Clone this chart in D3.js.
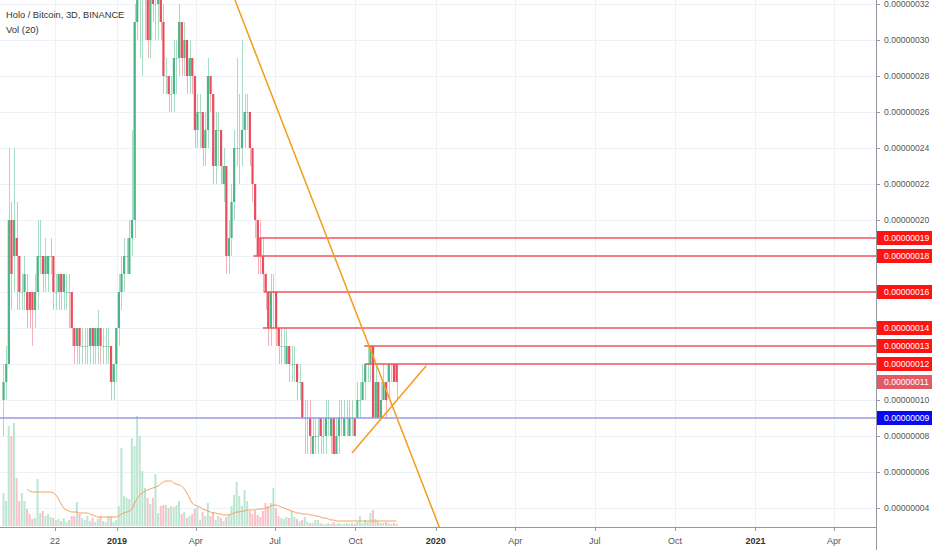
<!DOCTYPE html>
<html><head><meta charset="utf-8">
<script src="https://cdn.jsdelivr.net/npm/d3@7"></script>
<style>
html,body{margin:0;padding:0;background:#fff;}
svg{display:block;}
text{font-family:"Liberation Sans",Arial,sans-serif;}
</style></head><body>
<svg id="chart" width="932" height="550"></svg>
<script>
// ---- data (prices in satoshi, 1e-8 BTC) ----
const firstCandle = "2018-08-24";
const candleStepDays = 3;
const opens  = [10,11,12,20,18,19,18,16,16,16,16,16,15,16,18,18,17,17,18,18,16,16,17,16,16,16,16,14,13,14,13,13,13,13,14,13,13,14,13,13,13,13,11,12,14,16,17,18,17,19,20,31,33,33,33,33,30,33,32,32,33,31,28,28,27,27,29,29,31,29,30,28,29,28,25,26,26,24,25,28,27,23,25,25,22,23,18,19,21,24,24,24,25,26,26,24,22,20,19,18,17,16,14,16,16,14,13,13,12,13,12,12,12,11,11,9,9,9,7,8,8,9,8,8,9,8,9,7,8,9,8,9,8,9,9,9,10,10,11,12,12,13,9,11,9,10,11,11,12,12,12];
const closes = [11,12,20,17,20,18,16,16,17,15,15,15,16,18,18,17,18,18,18,16,16,17,16,17,16,16,14,13,14,13,13,13,13,14,13,14,14,13,13,13,13,11,12,14,16,17,18,18,19,20,31,34,33,33,33,30,33,32,32,33,31,28,28,27,27,29,29,31,29,30,28,29,28,25,26,26,24,25,28,27,23,25,25,23,23,18,19,21,24,24,24,25,26,26,24,22,20,18,18,17,16,14,16,16,14,13,13,13,13,12,12,12,11,11,9,9,9,8,8,8,8,8,8,9,9,9,7,8,9,9,9,9,9,9,8,10,10,11,12,12,13,9,11,9,10,11,10,12,12,11,11];
const highs  = [12,13,24,21,24,21,18,17,18,17,16,16,17,20,20,18,19,18,19,18,17,17,17,17,17,17,16,14,14,14,14,14,14,14,14,14,15,14,14,14,14,13,12,14,17,18,19,19,20,25,32,35,35,34,35,34,34,34,34,34,34,32,29,28,28,30,30,32,31,31,30,30,29,28,27,27,26,26,29,28,27,26,26,25,24,23,20,22,25,29,27,30,27,27,26,24,22,20,20,19,17,16,17,17,16,14,14,14,14,13,13,13,12,12,11,10,10,10,9,9,9,9,9,10,10,9,9,9,10,10,10,10,10,10,9,11,11,12,12,13,13,13,12,11,11,12,11,12,12,12,12];
const lows   = [8,10,12,15,16,15,15,15,15,14,14,13,14,15,17,16,16,16,17,15,15,15,15,15,15,14,13,12,12,12,12,12,12,12,12,12,12,12,12,12,12,10,10,11,13,15,16,17,17,18,19,30,29,28,30,29,29,31,30,30,30,27,27,26,26,26,27,28,28,28,27,27,27,24,24,24,23,23,24,26,22,22,23,22,21,17,17,18,20,23,22,23,24,25,23,21,19,17,17,16,15,13,13,14,13,12,12,12,12,11,11,11,10,10,9,7,7,7,7,7,7,7,7,7,8,7,7,7,7,8,8,8,8,8,8,9,9,10,10,11,11,9,9,9,9,10,9,10,11,11,10];
const volumes = [33,25,100,90,103,48,25,33,25,17,12,7,8,47,13,15,10,12,9,8,6,7,5,8,4,6,10,10,24,12,8,6,10,5,8,4,7,10,5,4,10,9,4,6,20,78,30,28,27,88,80,110,90,55,38,28,22,28,52,13,20,21,21,18,20,19,21,25,12,14,8,10,12,17,19,6,14,10,23,10,14,6,10,8,5,9,12,20,31,44,30,20,36,25,15,12,15,11,9,15,23,20,23,38,18,10,8,7,9,8,15,9,7,5,6,9,4,3,3,6,6,3,2,2,3,2,4,2,3,2,2,3,2,3,2,4,10,3,6,4,13,16,7,4,3,3,4,3,2,3,2];
const volumeMA = [null,null,null,null,null,null,null,null,null,37,35,34,34,34,34,34,34,34,34,33,31,27,22,18,16,15,14,14,14,13,13,13,13,12,11,10,9,9,9,9,9,9,9,9,10,12,13,14,15,17,23,27,31,33,35,36,37,38,39,40,42,44,45,45,45,43,42,41,40,37,33,28,23,21,20,19,17,16,15,14,13,13,12,12,11,11,11,12,13,14,14,15,15,16,16,16,16,17,17,17,18,18,20,21,21,20,19,18,17,16,15,14,13,13,12,12,12,11,11,10,10,9,8,8,7,6,6,5,5,5,5,5,5,5,5,5,5,5,5,5,5,5,5,5,5,5,5,5,5,5,5];
const priceTicks = [4,6,8,10,12,14,16,18,20,22,24,26,28,30,32];
const timeTickDates  = ["2018-10-22","2019-01-01","2019-04-01","2019-07-01","2019-10-01","2020-01-01","2020-04-01","2020-07-01","2020-10-01","2021-01-01","2021-04-01"];
const timeTickLabels = ["22","2019","Apr","Jul","Oct","2020","Apr","Jul","Oct","2021","Apr"];
const resistancePrices = [19,18,16,14,13,12];
const resistanceStarts = ["2019-06-13","2019-06-06","2019-06-18","2019-06-17","2019-10-11","2019-10-12"];
const supportPrice = 9;
const lastPrice = 11;
const trendDown = [["2019-05-16",32.22],["2020-01-05",2.94]];
const trendUp   = [["2019-09-27",7.06],["2019-12-21",11.9]];
const title = "Holo / Bitcoin, 3D, BINANCE";
const volTitle = "Vol (20)";

// ---- drawing ----
const W = 932, H = 550, plotR = 876, plotB = 527;
const parse = d3.utcParse("%Y-%m-%d");
const svg = d3.select("#chart");
const x = d3.scaleUtc().domain([parse("2018-08-20"), parse("2021-05-19")]).range([0, plotR]);
const y = d3.scaleLinear().domain([4, 32]).range([508, 4]);
const yv = d3.scaleLinear().domain([0, 110]).range([526, 416]);
const fmt = v => (v * 1e-8).toFixed(8);

const candles = opens.map((o, i) => ({
  date: d3.utcDay.offset(parse(firstCandle), candleStepDays * i),
  o, c: closes[i], h: highs[i], l: lows[i], v: volumes[i], ma: volumeMA[i]
}));

svg.append("rect").attr("width", W).attr("height", H).attr("fill", "#fff");
svg.append("clipPath").attr("id", "clip").append("rect").attr("x", 0).attr("y", 0).attr("width", plotR).attr("height", plotB);

// grid
const grid = svg.append("g").attr("stroke", "#eef1f5").attr("stroke-width", 1);
grid.selectAll("line.h").data(priceTicks).join("line")
  .attr("x1", 0).attr("x2", plotR).attr("y1", d => Math.round(y(d)) + 0.5).attr("y2", d => Math.round(y(d)) + 0.5);
grid.selectAll("line.v").data(timeTickDates).join("line")
  .attr("y1", 0).attr("y2", plotB).attr("x1", d => Math.round(x(parse(d))) + 0.5).attr("x2", d => Math.round(x(parse(d))) + 0.5);

const plot = svg.append("g").attr("clip-path", "url(#clip)");

// volume bars
plot.append("g").selectAll("rect").data(candles).join("rect")
  .attr("x", d => x(d.date) - 1).attr("width", 2)
  .attr("y", d => yv(d.v)).attr("height", d => yv(0) - yv(d.v))
  .attr("fill", d => d.c >= d.o ? "#bde6d2" : "#f8c1c8");

// volume MA
plot.append("path").datum(candles.filter(d => d.ma != null))
  .attr("fill", "none").attr("stroke", "#f5a05e").attr("stroke-width", 1)
  .attr("d", d3.line().x(d => x(d.date)).y(d => yv(d.ma)).curve(d3.curveMonotoneX));

// wicks
plot.append("g").selectAll("line").data(candles).join("line")
  .attr("x1", d => Math.round(x(d.date)) + 0.5).attr("x2", d => Math.round(x(d.date)) + 0.5)
  .attr("y1", d => y(d.h)).attr("y2", d => y(d.l))
  .attr("stroke", d => d.c >= d.o ? "#a9dcc4" : "#f6b0b7").attr("stroke-width", 1);

// bodies
plot.append("g").selectAll("rect").data(candles).join("rect")
  .attr("x", d => x(d.date) - 1).attr("width", 2.2)
  .attr("y", d => y(Math.max(d.o, d.c)))
  .attr("height", d => Math.max(1, Math.abs(y(d.o) - y(d.c))))
  .attr("fill", d => d.c >= d.o ? "#4cb585" : "#eb4d5c")
  .attr("opacity", d => d.c === d.o ? 0.55 : 1);

// resistance lines
plot.append("g").selectAll("line").data(resistancePrices).join("line")
  .attr("x1", (d, i) => x(parse(resistanceStarts[i]))).attr("x2", plotR)
  .attr("y1", d => y(d)).attr("y2", d => y(d))
  .attr("stroke", "#f2545e").attr("stroke-width", 1.3);

// support line
plot.append("line").attr("x1", 0).attr("x2", plotR).attr("y1", y(supportPrice)).attr("y2", y(supportPrice))
  .attr("stroke", "#9a9ae6").attr("stroke-width", 1.6);

// trend lines
[trendDown, trendUp].forEach(t => {
  plot.append("line")
    .attr("x1", x(parse(t[0][0]))).attr("y1", y(t[0][1]))
    .attr("x2", x(parse(t[1][0]))).attr("y2", y(t[1][1]))
    .attr("stroke", "#f59d1a").attr("stroke-width", 1.5);
});

// axes lines
svg.append("line").attr("x1", plotR + 0.5).attr("x2", plotR + 0.5).attr("y1", 0).attr("y2", H).attr("stroke", "#9598a1").attr("stroke-width", 1);
svg.append("line").attr("x1", 0).attr("x2", plotR).attr("y1", plotB + 0.5).attr("y2", plotB + 0.5).attr("stroke", "#9598a1").attr("stroke-width", 1);

// right axis ticks
const boxed = resistancePrices.concat([supportPrice, lastPrice]);
const rAxis = svg.append("g");
rAxis.selectAll("line").data(priceTicks).join("line")
  .attr("x1", plotR).attr("x2", plotR + 4).attr("y1", d => Math.round(y(d)) + 0.5).attr("y2", d => Math.round(y(d)) + 0.5)
  .attr("stroke", "#9598a1");
rAxis.selectAll("text").data(priceTicks.filter(p => !boxed.includes(p))).join("text")
  .attr("x", plotR + 8).attr("y", d => y(d)).attr("dy", "0.35em")
  .attr("font-size", 8.6).attr("fill", "#555").text(fmt);

// price label boxes
const boxes = resistancePrices.map(p => ({p, fill: "#ff1414"}))
  .concat([{p: lastPrice, fill: "#e35a66"}, {p: supportPrice, fill: "#0a0af0"}]);
const bg = svg.append("g").selectAll("g").data(boxes).join("g")
  .attr("transform", d => `translate(${plotR + 1},${y(d.p) - 7})`);
bg.append("rect").attr("width", W - plotR).attr("height", 14).attr("fill", d => d.fill);
bg.append("text").attr("x", 7).attr("y", 7).attr("dy", "0.35em").attr("font-size", 8.6).attr("fill", "#fff").text(d => fmt(d.p));

// bottom axis
const bAxis = svg.append("g");
bAxis.selectAll("line").data(timeTickDates).join("line")
  .attr("x1", d => Math.round(x(parse(d))) + 0.5).attr("x2", d => Math.round(x(parse(d))) + 0.5)
  .attr("y1", plotB).attr("y2", plotB + 4).attr("stroke", "#9598a1");
bAxis.selectAll("text").data(timeTickDates).join("text")
  .attr("x", d => x(parse(d))).attr("y", 544).attr("text-anchor", "middle")
  .attr("font-size", 9).attr("fill", (d, i) => /^\d{4}$/.test(timeTickLabels[i]) ? "#333" : "#555")
  .attr("font-weight", (d, i) => /^\d{4}$/.test(timeTickLabels[i]) ? "bold" : "normal")
  .text((d, i) => timeTickLabels[i]);

// titles
svg.append("text").attr("x", 6).attr("y", 18).attr("font-size", 9.3).attr("fill", "#333").text(title);
svg.append("text").attr("x", 6).attr("y", 33).attr("font-size", 9.5).attr("fill", "#333").text(volTitle);
</script>
</body></html>
